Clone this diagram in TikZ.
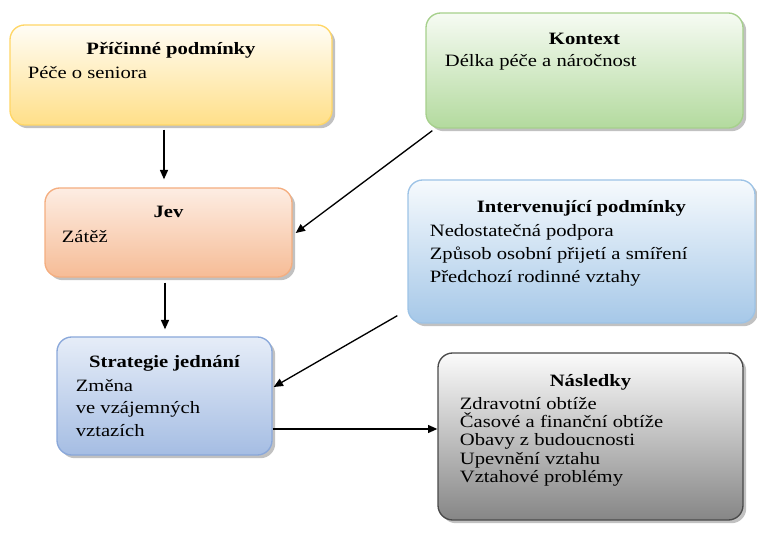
\documentclass[tikz,border=0pt]{standalone}
\usepackage{fontspec}
\setmainfont{Liberation Serif}[FakeStretch=1.19]
\usetikzlibrary{positioning,calc,shadows,arrows.meta}

\definecolor{yelB}{HTML}{FFD666}
\definecolor{yelT}{HTML}{FFFDF6}
\definecolor{yelD}{HTML}{FFDF88}
\definecolor{grnB}{HTML}{A6D08C}
\definecolor{grnT}{HTML}{F6FBF3}
\definecolor{grnD}{HTML}{B3DA9E}
\definecolor{oraB}{HTML}{F4AE80}
\definecolor{oraT}{HTML}{FDEDE3}
\definecolor{oraD}{HTML}{F6BC96}
\definecolor{bluB}{HTML}{9DC3E6}
\definecolor{bluT}{HTML}{F6FAFD}
\definecolor{bluD}{HTML}{A6C8E8}
\definecolor{skyB}{HTML}{8AA8DA}
\definecolor{skyT}{HTML}{E6EDF8}
\definecolor{skyD}{HTML}{A5BDE3}
\definecolor{gryB}{HTML}{4A4A4A}
\definecolor{gryT}{HTML}{FBFBFB}
\definecolor{gryD}{HTML}{868686}

\begin{document}
\begin{tikzpicture}[
    x=0.75pt,y=-0.75pt,
    font=\fontsize{13}{17}\selectfont,
    thick
  ]
\def\px{0.75pt}
\useasboundingbox (0,0) rectangle (757,534);

\tikzstyle{panel}=[draw,rounded corners=11pt,line width=1pt,inner sep=0pt,
  drop shadow={shadow xshift=2.4pt,shadow yshift=-2.4pt,fill=black!30,opacity=0.8}];
\tikzstyle{yel}=[draw=yelB,top color=yelT,bottom color=yelD];
\tikzstyle{grn}=[draw=grnB,top color=grnT,bottom color=grnD];
\tikzstyle{ora}=[draw=oraB,top color=oraT,bottom color=oraD];
\tikzstyle{blu}=[draw=bluB,top color=bluT,bottom color=bluD];
\tikzstyle{sky}=[draw=skyB,top color=skyT,bottom color=skyD];
\tikzstyle{gry}=[draw=gryB,top color=gryT,bottom color=gryD];

\node[panel,yel,minimum width=322*\px,minimum height=100*\px] (pric) at (171,75) {};
\node[panel,grn,minimum width=317*\px,minimum height=115*\px] (kont) at (584.5,70.5) {};
\node[panel,ora,minimum width=247*\px,minimum height=89*\px] (jev) at (168.5,232.5) {};
\node[panel,blu,minimum width=347*\px,minimum height=143*\px] (intv) at (581.5,251.5) {};
\node[panel,sky,minimum width=215*\px,minimum height=118*\px] (strat) at (164.5,396) {};
\node[panel,gry,minimum width=305*\px,minimum height=167*\px] (nasl) at (590.5,436.5) {};

\tikzstyle{ttl}=[anchor=base,inner sep=0pt,font=\fontsize{13}{17}\selectfont\bfseries];
% base west of a multi-line text is the baseline of its last line
\tikzstyle{txt}=[anchor=base west,inner sep=0pt,align=left];

\node[ttl] (pric-t) at ($(pric.north)+(0,30)$) {Příčinné podmínky};
\node[txt] (pric-b) at ($(pric.north west)+(18,54)$) {Péče o seniora};

\node[ttl] (kont-t) at ($(kont.north)+(0,32)$) {Kontext};
\node[txt] (kont-b) at ($(kont.north west)+(19,54)$) {Délka péče a náročnost};

\node[ttl] (jev-t) at ($(jev.north)+(0,30)$) {Jev};
\node[txt] (jev-b) at ($(jev.north west)+(17,55)$) {Zátěž};

\node[ttl] (intv-t) at ($(intv.north)+(0,33)$) {Intervenující podmínky};
\node[txt,font=\fontsize{13}{17.4}\selectfont] (intv-b) at ($(intv.north west)+(22,103.4)$)
  {Nedostatečná podpora\\Způsob osobní přijetí a smíření\\Předchozí rodinné vztahy};

\node[ttl] (strat-t) at ($(strat.north)+(0,31)$) {Strategie jednání};
\node[txt,font=\fontsize{13}{16.9}\selectfont] (strat-b) at ($(strat.north west)+(19,100)$)
  {Změna\\ve vzájemných\\vztazích};

\node[ttl] (nasl-t) at ($(nasl.north)+(0,34)$) {Následky};
\node[txt,font=\fontsize{13}{13.75}\selectfont] (nasl-b) at ($(nasl.north west)+(22,130.2)$)
  {Zdravotní obtíže\\Časové a finanční obtíže\\Obavy z budoucnosti\\Upevnění vztahu\\Vztahové problémy};

\tikzstyle{arr}=[-{Triangle[length=7pt,width=6pt]},line width=1pt,draw=black];

\draw[arr] ($(pric.south)+(-7,4)$) -- ($(jev.north)+(-4.5,-8)$);
\draw[arr] ($(kont.south west)+(7,2)$) -- ($(jev.east)+(3,0.5)$);
\draw[arr] ($(jev.south)+(-3.5,5)$) -- ($(strat.north)+(0.5,-7)$);
\draw[arr] ($(intv.south west)+(-10,-8)$) -- ($(strat.east)+(1,-9)$);

\coordinate (sn) at ($(strat.east)+(0,33)$);
\draw[arr] (sn) -- (sn -| nasl.west);

\end{tikzpicture}
\end{document}
